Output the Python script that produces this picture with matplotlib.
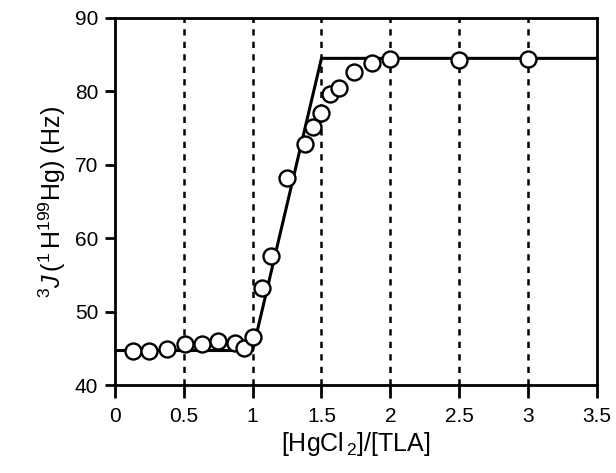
import matplotlib
matplotlib.use("Agg")
import matplotlib.pyplot as plt

ratio = [0.13, 0.25, 0.38, 0.51, 0.63, 0.75, 0.87, 0.94, 1.00, 1.07, 1.13, 1.25,
         1.38, 1.44, 1.50, 1.56, 1.63, 1.74, 1.87, 2.00, 2.50, 3.00]
coupling = [44.6, 44.6, 44.9, 45.6, 45.6, 46.0, 45.7, 45.1, 46.6, 53.2, 57.6, 68.2,
            72.9, 75.2, 77.1, 79.6, 80.4, 82.7, 83.9, 84.4, 84.3, 84.4]

fit_x = [0.0, 1.0, 1.5, 3.5]
fit_y = [44.7, 44.7, 84.5, 84.5]

guide_x = [0.5, 1.0, 1.5, 2.0, 2.5, 3.0]
xticks = [0, 0.5, 1, 1.5, 2, 2.5, 3, 3.5]
xtick_labels = ["0", "0.5", "1", "1.5", "2", "2.5", "3", "3.5"]
yticks = [40, 50, 60, 70, 80, 90]

plt.rcParams['font.family'] = ['Liberation Sans', 'DejaVu Sans']
plt.rcParams['mathtext.fontset'] = 'custom'
plt.rcParams['mathtext.rm'] = 'Liberation Sans'
plt.rcParams['mathtext.it'] = 'Liberation Sans:italic'

fig = plt.figure(figsize=(6.16, 4.73), dpi=100)
ax = fig.add_axes([0.1867, 0.186, 0.782, 0.776])

for gx in guide_x:
    ax.axvline(gx, color='black', lw=1.8, ls=(0, (2.5, 2.5)), zorder=1)

ax.plot(fit_x, fit_y, color='black', lw=2.2, zorder=2)
ax.plot(ratio, coupling, 'o', ms=11.5, mfc='white', mec='black', mew=1.7, zorder=3)

ax.set_xlim(0, 3.5)
ax.set_ylim(40, 90)
ax.set_xticks(xticks)
ax.set_xticklabels(xtick_labels)
ax.set_yticks(yticks)
ax.tick_params(axis='x', direction='out', length=9, width=2, labelsize=15, pad=7)
ax.tick_params(axis='y', direction='out', length=7, width=2, labelsize=15, pad=5)
for s in ax.spines.values():
    s.set_linewidth(2)

ax.set_xlabel(r'[HgCl$_{\,2}$]/[TLA]', fontsize=18, labelpad=3)
ax.set_ylabel(r'$^{3}\mathit{J}\,(^{1}\,\mathrm{H}^{199}\mathrm{Hg})$ (Hz)', fontsize=18, labelpad=5)

fig.savefig('out.png', dpi=100)
